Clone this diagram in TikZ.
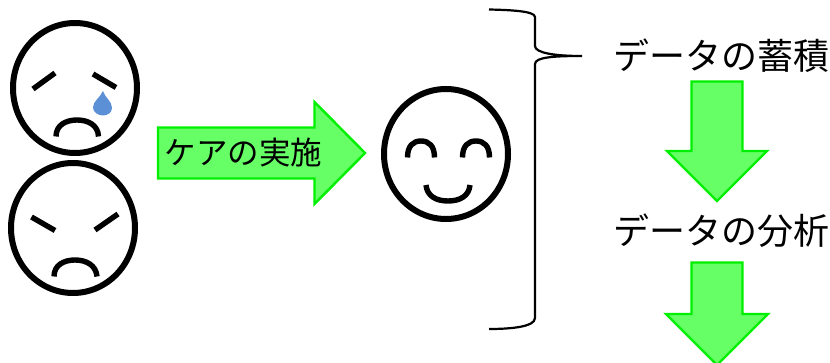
\documentclass[tikz,border=0pt]{standalone}
\usepackage{fontspec}
\newfontfamily\cjk{Noto Sans CJK JP}
\definecolor{arrowfill}{HTML}{66FF66}
\definecolor{arrowline}{HTML}{00F000}
\definecolor{tear}{HTML}{5B8FD6}
\tikzset{
  facering/.style={draw=black,line width=6pt},
  feature/.style={draw=black,line width=5.4pt},
  bigarrow/.style={draw=arrowline,fill=arrowfill,line width=2.4pt,miter limit=10},
  jptext/.style={font=\cjk,inner sep=0pt,text=black},
}
\begin{document}
\begin{tikzpicture}[x=1pt,y=-1pt]
\clip (0,0) rectangle (830,363);
\fill[white] (0,0) rectangle (830,363);
% worried face
\draw[facering] (75,88) ellipse [x radius=62,y radius=65];
\draw[feature] (33,89) -- (55,73);
\draw[feature] (93,74) -- (116,87.5);
\draw[feature] (56,136.5) .. controls (56,125) and (66,120) .. (77,120) .. controls (88,120) and (98,125) .. (98.5,136.5);
\fill[tear] (103,91) .. controls (105,98) and (112,101) .. (112,108) .. controls (112,113) and (107,115.5) .. (103,115.5) .. controls (98,115.5) and (93,112) .. (93,107.5) .. controls (93,101) and (100,98) .. (103,91) -- cycle;
% angry face
\draw[facering] (73,228) ellipse [x radius=62,y radius=65];
\draw[feature] (31.5,217) -- (55,230.5);
\draw[feature] (95,230) -- (118,214);
\draw[feature] (54,276.5) .. controls (54,265) and (64,260) .. (75,260) .. controls (86,260) and (96,265) .. (97,276.5);
% care arrow
\draw[bigarrow] (158,127.5) -- (314.5,127.5) -- (314.5,102) -- (365,153) -- (314.5,204) -- (314.5,178.5) -- (158,178.5) -- cycle;
\node[jptext,font=\cjk\fontsize{31.5}{32}\selectfont,anchor=center] (care) at (243.5,153) {ケアの実施};
% smiling face
\draw[facering] (446,154) ellipse [x radius=62,y radius=65];
\draw[feature] (407.5,157.5) .. controls (407.5,146) and (413,141) .. (421,141) .. controls (429,141) and (434.5,146) .. (434.5,157.5);
\draw[feature] (462.5,157.5) .. controls (462.5,146) and (468,141) .. (476,141) .. controls (484,141) and (489.5,146) .. (489.5,157.5);
\draw[feature] (426,185) .. controls (427,196) and (436,201) .. (448,201) .. controls (460,201) and (469,196) .. (470,185);
% brace
\coordinate (bracetop) at (489,9.5);
\coordinate (bracetip) at (582,56);
\coordinate (bracebot) at (489,329);
\draw[black,line width=2.2pt] (bracetop) .. controls (510,10) and (535,11) .. (535,17) -- (535,46) .. controls (535,53) and (555,56) .. (bracetip) .. controls (555,56) and (535,57) .. (535,64) -- (535,318) .. controls (535,327) and (510,329) .. (bracebot);
% right column
\node[jptext,font=\cjk\fontsize{36}{36}\selectfont,anchor=center] (store) at (721,56) {データの蓄積};
\draw[bigarrow] (691.5,81.5) -- (742.5,81.5) -- (742.5,151) -- (767,151) -- (717,201) -- (667,151) -- (691.5,151) -- cycle;
\node[jptext,font=\cjk\fontsize{36}{36}\selectfont,anchor=center] (analysis) at (721,231) {データの分析};
\draw[bigarrow] (691.5,262.5) -- (742.5,262.5) -- (742.5,314) -- (768,314) -- (717,365) -- (666,314) -- (691.5,314) -- cycle;
\end{tikzpicture}
\end{document}
